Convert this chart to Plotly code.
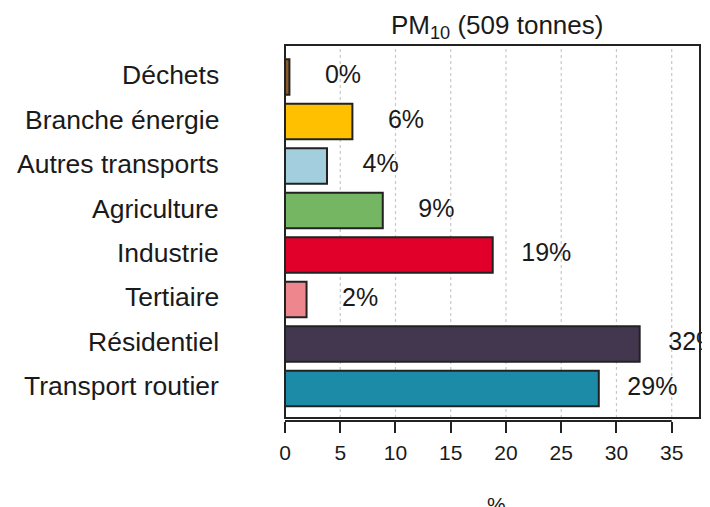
import plotly.graph_objects as go

# ---- data (top to bottom as displayed) ----
categories = ["Déchets", "Branche énergie", "Autres transports", "Agriculture",
              "Industrie", "Tertiaire", "Résidentiel", "Transport routier"]
values = [0.4, 6.1, 3.8, 8.85, 18.8, 1.95, 32.1, 28.4]
value_labels = ["0%", "6%", "4%", "9%", "19%", "2%", "32%", "29%"]
colors = ["#8B5A2B", "#FFC000", "#A3CEDD", "#75B663", "#E0002A", "#EE878D", "#433750", "#1B8BA8"]
x_ticks = [0, 5, 10, 15, 20, 25, 30, 35]
title_text = "PM<sub>10</sub> (509 tonnes)"
x_title = "%"

X_MAX = 37.56
LABEL_OFFSET = 4.85
FONT = "Liberation Sans, Arial, sans-serif"
INK = "#1a1a1a"

fig = go.Figure()

fig.add_trace(go.Bar(
    x=values, y=categories, orientation="h",
    marker=dict(color=colors, line=dict(color="#222222", width=2)),
    width=0.8, showlegend=False, hoverinfo="skip",
))

fig.add_trace(go.Scatter(
    x=[v + LABEL_OFFSET for v in values], y=categories,
    mode="text", text=value_labels, textposition="middle center",
    textfont=dict(family=FONT, size=25, color=INK),
    cliponaxis=False, showlegend=False, hoverinfo="skip",
))

W, H = 702, 499
M_L, M_R, M_T, M_B = 277, 10, 37, 86
plot_h = H - M_T - M_B
box_bottom = 3 / plot_h

shapes = []
# dotted vertical gridlines
for v in x_ticks[1:]:
    shapes.append(dict(type="line", xref="x", yref="paper", x0=v, x1=v,
                       y0=box_bottom, y1=1, layer="below",
                       line=dict(color="#c8c8c8", width=1.2, dash="dot")))
# box
shapes.append(dict(type="rect", xref="paper", yref="paper", x0=0, x1=1,
                   y0=box_bottom, y1=1, line=dict(color="#222222", width=2),
                   fillcolor="rgba(0,0,0,0)"))
# axis line from first to last tick
shapes.append(dict(type="line", xref="paper", yref="paper",
                   x0=x_ticks[0] / X_MAX, x1=x_ticks[-1] / X_MAX, y0=0, y1=0,
                   line=dict(color="#222222", width=2)))

annotations = []
for c in categories:
    annotations.append(dict(text=c, xref="paper", yref="y", x=0, y=c,
                            xanchor="right", yanchor="middle", xshift=-64, yshift=2,
                            showarrow=False,
                            font=dict(family=FONT, size=26.5, color=INK)))
annotations.append(dict(text=title_text, xref="paper", yref="paper", x=0.5, y=1,
                        xanchor="center", yanchor="middle", xshift=4, yshift=19,
                        showarrow=False, font=dict(family=FONT, size=26, color=INK)))
annotations.append(dict(text=x_title, xref="paper", yref="paper", x=0.5, y=0,
                        xanchor="center", yanchor="middle", xshift=4, yshift=-83,
                        showarrow=False, font=dict(family=FONT, size=21, color=INK)))

fig.update_layout(
    width=W, height=H,
    margin=dict(l=M_L, r=M_R, t=M_T, b=M_B),
    paper_bgcolor="white", plot_bgcolor="white",
    bargap=0.2,
    shapes=shapes, annotations=annotations,
    xaxis=dict(range=[0, X_MAX], tickvals=x_ticks, ticks="outside", ticklen=11,
               tickwidth=2, tickcolor="#222222", showgrid=False, zeroline=False,
               showline=False, ticklabelstandoff=2,
               tickfont=dict(family=FONT, size=21, color=INK)),
    yaxis=dict(categoryorder="array", categoryarray=categories[::-1],
               range=[-0.731, 7.72], showticklabels=False, ticks="",
               showgrid=False, zeroline=False, showline=False),
)

fig.write_html("out.html")
